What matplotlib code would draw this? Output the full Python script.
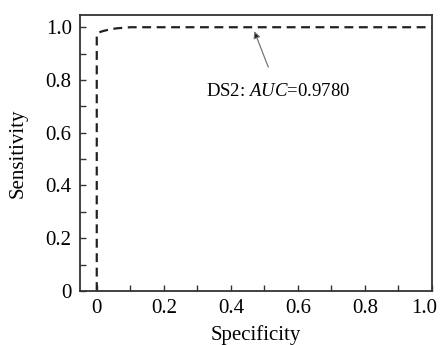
import matplotlib
matplotlib.use("Agg")
import matplotlib.pyplot as plt
import matplotlib.transforms as mtransforms

# ROC curve data (x = specificity axis, y = sensitivity)
roc_x = [0.0, 0.0, 0.003, 0.01, 0.02, 0.04, 0.06, 0.1, 0.3, 0.5, 0.7, 1.0]
roc_y = [0.0, 0.97, 0.978, 0.982, 0.986, 0.992, 0.996, 1.0, 1.0, 1.0, 1.0, 1.0]
xticks = [0, 0.2, 0.4, 0.6, 0.8, 1.0]
xtick_labels = ["0", "0.2", "0.4", "0.6", "0.8", "1.0"]
yticks = [0, 0.2, 0.4, 0.6, 0.8, 1.0]
ytick_labels = ["0", "0.2", "0.4", "0.6", "0.8", "1.0"]
minor_ticks = [0.1, 0.3, 0.5, 0.7, 0.9]
annot_text = "DS2: $\\mathit{AUC}$=0.9780"
annot_xy = (0.47, 0.985)
annot_text_xy = (0.54, 0.757)

plt.rcParams['font.family'] = ['Liberation Serif', 'DejaVu Serif']
plt.rcParams['mathtext.fontset'] = 'custom'
plt.rcParams['mathtext.it'] = 'Liberation Serif:italic'
plt.rcParams['mathtext.rm'] = 'Liberation Serif'

fig = plt.figure(figsize=(4.43, 3.45), dpi=100)
ax = fig.add_axes([0.1806, 0.1565, 0.7944, 0.8005])

ax.plot(roc_x, roc_y, color='#222222', lw=1.6, dashes=(4, 2.5), solid_capstyle='butt')

ax.set_xlim(-0.05, 1.0)
ax.set_ylim(0, 1.047)
ax.set_xticks(xticks)
ax.set_xticklabels(xtick_labels)
ax.set_yticks(yticks)
ax.set_yticklabels(ytick_labels)
ax.set_xticks(minor_ticks, minor=True)
ax.set_yticks(minor_ticks, minor=True)
ax.tick_params(which='both', direction='in', length=4, width=1.0, color='#333333',
               labelsize=15, top=False, right=False, pad=6)
for s in ax.spines.values():
    s.set_color('#333333')
    s.set_linewidth(1.3)

# shift last x tick label slightly left so it stays inside the figure
last_lbl = ax.get_xticklabels()[-1]
last_lbl.set_transform(last_lbl.get_transform() +
                       mtransforms.ScaledTranslation(-8 / 100, 0, fig.dpi_scale_trans))

ax.set_xlabel("Specificity", fontsize=15, labelpad=5)
ax.set_ylabel("Sensitivity", fontsize=15, labelpad=13)

ax.annotate(annot_text, xy=annot_xy, xytext=annot_text_xy, fontsize=13.5,
            ha='center', va='center',
            arrowprops=dict(arrowstyle='-|>', color='#777777', lw=0.9,
                            mutation_scale=10, shrinkA=10, shrinkB=0,
                            fc='#111111', ec='#777777'))

fig.savefig("out.png", dpi=100)
